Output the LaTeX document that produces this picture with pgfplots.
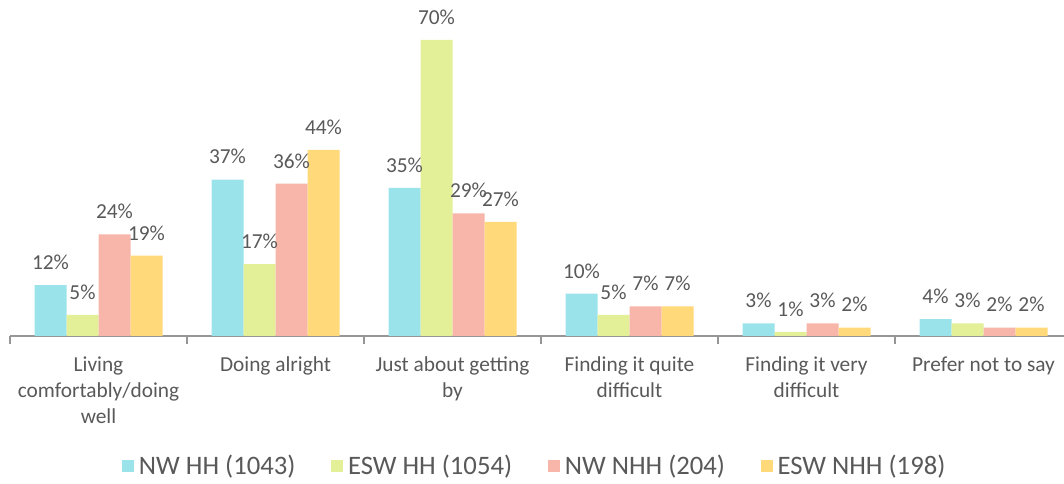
\documentclass[border=0pt]{standalone}
\usepackage{pgfplots}
\pgfplotsset{compat=1.18}
\usepackage{fontspec}
\setmainfont{Carlito}
\definecolor{cNWHH}{RGB}{155,227,234}
\definecolor{cESWHH}{RGB}{228,240,152}
\definecolor{cNWNHH}{RGB}{247,182,169}
\definecolor{cESWNHH}{RGB}{255,217,122}
\definecolor{txtgray}{RGB}{89,89,89}
\definecolor{axgray}{RGB}{150,150,150}

\begin{document}
\begin{tikzpicture}
\begin{axis}[
  scale only axis,
  width=796.5pt, height=228.4pt,
  xmin=-0.5, xmax=5.5, ymin=0, ymax=72,
  ybar=0pt, bar width=24pt,
  axis x line*=bottom, axis y line=none,
  axis line style={axgray, line width=1pt},
  xtick={0,...,5},
  xticklabels={Living\\comfortably/doing\\well, Doing alright, Just about getting\\by,
    Finding it quite\\difficult, Finding it very\\difficult, Prefer not to say},
  xticklabel style={align=center, font=\fontsize{16}{19.5}\selectfont, text=txtgray, yshift=-12pt},
  major tick length=0pt,
  minor xtick={-0.5,0.5,...,5.5},
  minor tick length=6pt,
  tick align=outside,
  minor tick style={axgray, line width=1pt},
  /pgf/number format/assume math mode=true,
  nodes near coords={\pgfmathprintnumber{\pgfplotspointmeta}\%},
  nodes near coords style={font=\fontsize{16}{19.5}\selectfont, text=txtgray, yshift=8pt},
  legend columns=4,
  legend style={at={(0.4945,-0.427)}, anchor=center, draw=none,
    font=\fontsize{20}{24}\selectfont, text=txtgray,
    /tikz/every odd column/.append style={column sep=1.5pt},
    /tikz/every even column/.append style={column sep=25pt}},
  legend image code/.code={\fill[#1] (0pt,-4.5pt) rectangle (9pt,4.5pt);},
  clip=false,
]
\addplot[fill=cNWHH, draw=none] coordinates {(0,12) (1,37) (2,35) (3,10) (4,3) (5,4)};
\addplot[fill=cESWHH, draw=none] coordinates {(0,5) (1,17) (2,70) (3,5) (4,1) (5,3)};
\addplot[fill=cNWNHH, draw=none] coordinates {(0,24) (1,36) (2,29) (3,7) (4,3) (5,2)};
\addplot[fill=cESWNHH, draw=none] coordinates {(0,19) (1,44) (2,27) (3,7) (4,2) (5,2)};
\legend{NW HH (1043), ESW HH (1054), NW NHH (204), ESW NHH (198)}
\end{axis}
\pgfresetboundingbox
\useasboundingbox (-7.5pt,-111pt) rectangle (790.5pt,252pt);
\end{tikzpicture}
\end{document}
